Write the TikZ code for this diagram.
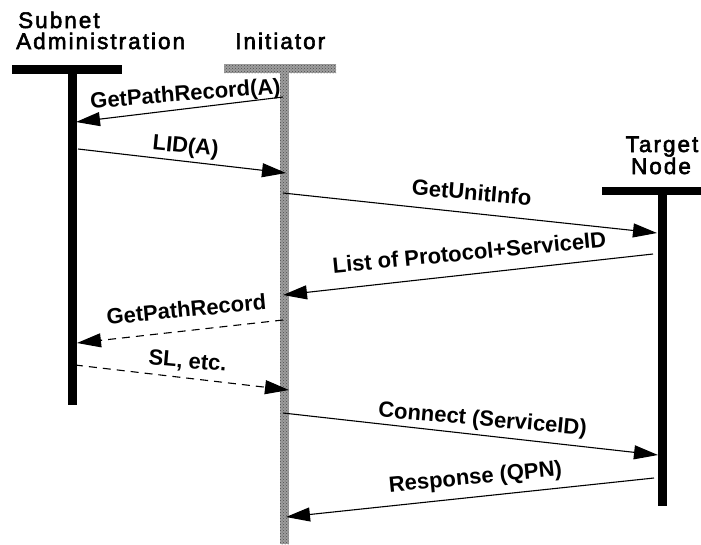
\documentclass[tikz,border=0pt]{standalone}
\usepackage{fontspec}
\setmainfont{Liberation Sans}
\newfontfamily\headfont[LetterSpace=9]{Liberation Sans}
\usetikzlibrary{arrows.meta,patterns}

% outline-thickened text (fill + stroke render mode)
\newcommand{\heavytext}[2]{\special{pdf:literal 2 Tr #1 w}#2\special{pdf:literal 0 Tr}}

\tikzset{
  lifeline/.style={fill=black},
  msg/.style={line width=1.1pt, -{Triangle[length=24pt,width=14pt]}},
  reply/.style={msg, dash pattern=on 8pt off 6pt},
  msglabel/.style={anchor=base, inner sep=0pt, font=\fontsize{22}{26}\selectfont\bfseries},
  headlabel/.style={inner sep=0pt, font=\fontsize{22.5}{26}\selectfont\headfont}
}

\begin{document}
\begin{tikzpicture}[x=1pt, y=-1pt]
\useasboundingbox (0,0) rectangle (701,544);

% participant headings
\node[headlabel, anchor=base west] (saT1) at (18,28) {\heavytext{0.55}{Subnet}};
\node[headlabel, anchor=base west] (saT2) at (16,49) {\heavytext{0.55}{Administration}};
\node[headlabel, anchor=base west] (inT) at (235,49) {\heavytext{0.55}{Initiator}};
\node[headlabel, anchor=base] (tnT1) at (662,152) {\heavytext{0.55}{Target}};
\node[headlabel, anchor=base] (tnT2) at (661,174) {\heavytext{0.55}{Node}};

% Subnet Administration lifeline
\fill[lifeline] (12,65) rectangle (122,74);
\fill[lifeline] (68,74) rectangle (77,405);

% Initiator lifeline (stippled grey)
\foreach \r in {{(224,64) rectangle (336,73)}, {(280,73) rectangle (289,544)}}{
  \fill[black!38] \r;
  \fill[pattern=crosshatch dots, pattern color=black!70] \r;
}

% Target Node lifeline
\fill[lifeline] (602,187) rectangle (701,195);
\fill[lifeline] (658,195) rectangle (667,506);

% message end points on the lifelines
\coordinate (i1) at (283,97);  \coordinate (s1) at (76,122);
\coordinate (s2) at (78,149);  \coordinate (i2) at (286,173);
\coordinate (i3) at (283,193); \coordinate (t3) at (657,233);
\coordinate (t4) at (653,254); \coordinate (i4) at (283,295);
\coordinate (i5) at (283,320); \coordinate (s5) at (77,343);
\coordinate (s6) at (75,365);  \coordinate (i6) at (289,390);
\coordinate (i7) at (283,413); \coordinate (t7) at (658,455);
\coordinate (t8) at (654,478); \coordinate (i8) at (286,517);

% messages
\draw[msg]   (i1) -- (s1);
\draw[msg]   (s2) -- (i2);
\draw[msg]   (i3) -- (t3);
\draw[msg]   (t4) -- (i4);
\draw[reply] (i5) -- (s5);
\draw[reply] (s6) -- (i6);
\draw[msg]   (i7) -- (t7);
\draw[msg]   (t8) -- (i8);

% message labels
\node[msglabel, rotate=4.5]  (l1) at (186,101) {GetPathRecord(A)};
\node[msglabel, rotate=-5.5] (l2) at (185,153) {LID(A)};
\node[msglabel, rotate=-5]   (l3) at (471,200) {GetUnitInfo};
\node[msglabel, rotate=5.5]  (l4) at (470,260) {List of Protocol+ServiceID};
\node[msglabel, rotate=5.5]  (l5) at (187,317) {GetPathRecord};
\node[msglabel, rotate=-5]   (l6) at (187,368) {SL, etc.};
\node[msglabel, rotate=-5]   (l7) at (482,426) {Connect (ServiceID)};
\node[msglabel, rotate=5.5]  (l8) at (476,484) {Response (QPN)};
\end{tikzpicture}
\end{document}
